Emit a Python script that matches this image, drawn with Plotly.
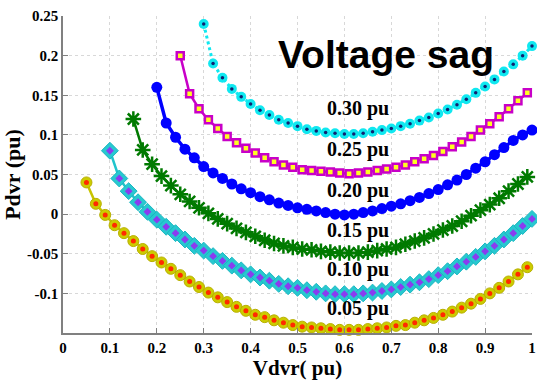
import plotly.graph_objects as go

# DVR active power versus injected DVR voltage for several sag depths
v_05 = [0.05, 0.07, 0.09, 0.11, 0.13, 0.15, 0.17, 0.19, 0.21, 0.23, 0.25, 0.27, 0.29, 0.31, 0.33, 0.35,
        0.37, 0.39, 0.41, 0.43, 0.45, 0.47, 0.49, 0.51, 0.53, 0.55, 0.57, 0.59, 0.61, 0.63, 0.65, 0.67,
        0.69, 0.71, 0.73, 0.75, 0.77, 0.79, 0.81, 0.83, 0.85, 0.87, 0.89, 0.91, 0.93, 0.95, 0.97, 0.99]
p_05 = [0.040, 0.013, -0.001, -0.014, -0.024, -0.034, -0.044, -0.053, -0.061, -0.069, -0.077, -0.085,
        -0.092, -0.099, -0.105, -0.111, -0.117, -0.122, -0.127, -0.130, -0.134, -0.137, -0.140, -0.142,
        -0.143, -0.144, -0.145, -0.146, -0.146, -0.146, -0.145, -0.144, -0.143, -0.141, -0.140, -0.137,
        -0.134, -0.131, -0.127, -0.123, -0.118, -0.113, -0.107, -0.100, -0.093, -0.085, -0.076, -0.067]

v_10 = [0.10, 0.12, 0.14, 0.16, 0.18, 0.20, 0.22, 0.24, 0.26, 0.28, 0.30, 0.32, 0.34, 0.36, 0.38, 0.40,
        0.42, 0.44, 0.46, 0.48, 0.50, 0.52, 0.54, 0.56, 0.58, 0.60, 0.62, 0.64, 0.66, 0.68, 0.70, 0.72,
        0.74, 0.76, 0.78, 0.80, 0.82, 0.84, 0.86, 0.88, 0.90, 0.92, 0.94, 0.96, 0.98, 1.00]
p_10 = [0.080, 0.045, 0.029, 0.015, 0.003, -0.007, -0.016, -0.024, -0.032, -0.040, -0.046, -0.053,
        -0.059, -0.065, -0.071, -0.076, -0.080, -0.084, -0.088, -0.091, -0.093, -0.096, -0.098, -0.100,
        -0.101, -0.101, -0.101, -0.100, -0.099, -0.097, -0.095, -0.092, -0.089, -0.086, -0.082, -0.077,
        -0.072, -0.066, -0.060, -0.054, -0.047, -0.040, -0.032, -0.024, -0.015, -0.006]

v_15 = [0.15, 0.17, 0.19, 0.21, 0.23, 0.25, 0.27, 0.29, 0.31, 0.33, 0.35, 0.37, 0.39, 0.41, 0.43, 0.45,
        0.47, 0.49, 0.51, 0.53, 0.55, 0.57, 0.59, 0.61, 0.63, 0.65, 0.67, 0.69, 0.71, 0.73, 0.75, 0.77,
        0.79, 0.81, 0.83, 0.85, 0.87, 0.89, 0.91, 0.93, 0.95, 0.97, 0.99]
p_15 = [0.120, 0.081, 0.063, 0.048, 0.036, 0.025, 0.016, 0.008, 0.001, -0.006, -0.012, -0.018, -0.023,
        -0.028, -0.033, -0.037, -0.040, -0.042, -0.044, -0.045, -0.047, -0.048, -0.049, -0.049, -0.049,
        -0.048, -0.046, -0.044, -0.042, -0.038, -0.034, -0.030, -0.025, -0.020, -0.015, -0.009, -0.002,
        0.005, 0.012, 0.020, 0.029, 0.038, 0.047]

v_20 = [0.20, 0.22, 0.24, 0.26, 0.28, 0.30, 0.32, 0.34, 0.36, 0.38, 0.40, 0.42, 0.44, 0.46, 0.48, 0.50,
        0.52, 0.54, 0.56, 0.58, 0.60, 0.62, 0.64, 0.66, 0.68, 0.70, 0.72, 0.74, 0.76, 0.78, 0.80, 0.82,
        0.84, 0.86, 0.88, 0.90, 0.92, 0.94, 0.96, 0.98, 1.00]
p_20 = [0.160, 0.115, 0.097, 0.082, 0.071, 0.060, 0.052, 0.045, 0.038, 0.032, 0.027, 0.022, 0.018,
        0.014, 0.011, 0.008, 0.006, 0.004, 0.002, 0.000, -0.001, 0.000, 0.002, 0.004, 0.007, 0.010,
        0.013, 0.017, 0.021, 0.026, 0.031, 0.037, 0.043, 0.050, 0.058, 0.066, 0.075, 0.084, 0.093,
        0.100, 0.106]

v_25 = [0.25, 0.27, 0.29, 0.31, 0.33, 0.35, 0.37, 0.39, 0.41, 0.43, 0.45, 0.47, 0.49, 0.51, 0.53, 0.55,
        0.57, 0.59, 0.61, 0.63, 0.65, 0.67, 0.69, 0.71, 0.73, 0.75, 0.77, 0.79, 0.81, 0.83, 0.85, 0.87,
        0.89, 0.91, 0.93, 0.95, 0.97, 0.99]
p_25 = [0.200, 0.152, 0.133, 0.119, 0.108, 0.098, 0.090, 0.083, 0.077, 0.071, 0.066, 0.062, 0.059,
        0.056, 0.055, 0.054, 0.053, 0.052, 0.051, 0.052, 0.053, 0.055, 0.057, 0.059, 0.062, 0.066,
        0.070, 0.074, 0.079, 0.085, 0.091, 0.098, 0.106, 0.114, 0.123, 0.133, 0.143, 0.153]

v_30 = [0.30, 0.32, 0.34, 0.36, 0.38, 0.40, 0.42, 0.44, 0.46, 0.48, 0.50, 0.52, 0.54, 0.56, 0.58, 0.60,
        0.62, 0.64, 0.66, 0.68, 0.70, 0.72, 0.74, 0.76, 0.78, 0.80, 0.82, 0.84, 0.86, 0.88, 0.90, 0.92,
        0.94, 0.96, 0.98, 1.00]
p_30 = [0.240, 0.190, 0.172, 0.158, 0.148, 0.139, 0.131, 0.125, 0.119, 0.115, 0.111, 0.107, 0.105,
        0.103, 0.102, 0.101, 0.101, 0.102, 0.104, 0.106, 0.108, 0.111, 0.114, 0.118, 0.122, 0.127,
        0.132, 0.138, 0.145, 0.153, 0.161, 0.170, 0.180, 0.189, 0.200, 0.212]

sag_labels = ["0.30 pu", "0.25 pu", "0.20 pu", "0.15 pu", "0.10 pu", "0.05 pu"]
label_x = [0.63, 0.63, 0.63, 0.63, 0.63, 0.63]
label_y = [0.133, 0.082, 0.030, -0.021, -0.070, -0.119]

x_ticks = [0, 0.1, 0.2, 0.3, 0.4, 0.5, 0.6, 0.7, 0.8, 0.9, 1]
x_ticktext = ["0", "0.1", "0.2", "0.3", "0.4", "0.5", "0.6", "0.7", "0.8", "0.9", "1"]
y_ticks = [-0.1, -0.05, 0, 0.05, 0.1, 0.15, 0.2, 0.25]
y_ticktext = ["-0.1", "-0.05", "0", "0.05", "0.1", "0.15", "0.2", "0.25"]

SERIF = "Liberation Serif, Times New Roman, serif"

fig = go.Figure()


def add_curve(x, y, line, marker, inner=None):
    fig.add_trace(go.Scatter(x=x, y=y, mode="lines+markers", line=line, marker=marker,
                             cliponaxis=False, showlegend=False))
    if inner is not None:
        fig.add_trace(go.Scatter(x=x, y=y, mode="markers", marker=inner,
                                 cliponaxis=False, showlegend=False))


# 0.05 pu: olive circles with red centres
add_curve(v_05, p_05, dict(color="#c8c400", width=2.5),
          dict(symbol="circle", size=11, color="#cccc00", line=dict(color="#b8b000", width=1)),
          dict(symbol="circle", size=5, color="#ff2a00"))
# 0.10 pu: teal diamonds with purple centres
add_curve(v_10, p_10, dict(color="#20c4cc", width=2.5),
          dict(symbol="diamond", size=13, color="#28c8d0", line=dict(color="#18b8c0", width=1)),
          dict(symbol="diamond", size=6, color="#8a3cf0"))
# 0.15 pu: green asterisks
add_curve(v_15, p_15, dict(color="#007a00", width=2.5),
          dict(symbol="asterisk-open", size=13, color="#007a00", line=dict(color="#007a00", width=2.5)))
# 0.20 pu: blue filled circles
add_curve(v_20, p_20, dict(color="#0000ff", width=3.5),
          dict(symbol="circle", size=11, color="#0000ff"))
# 0.25 pu: magenta squares with yellow fill
add_curve(v_25, p_25, dict(color="#c800c8", width=2.5),
          dict(symbol="square", size=7, color="#ffff20", line=dict(color="#c800c8", width=2.5)))
# 0.30 pu: cyan circles with navy centres on a dotted line
add_curve(v_30, p_30, dict(color="#10e8f0", width=3, dash="dot"),
          dict(symbol="circle", size=10, color="#10e8f0"),
          dict(symbol="circle", size=3.5, color="#102070"))

for txt, lx, ly in zip(sag_labels, label_x, label_y):
    fig.add_annotation(x=lx, y=ly, text=txt, showarrow=False,
                       font=dict(family=SERIF, size=20, color="black", weight="bold"))

fig.add_annotation(xref="paper", yref="paper", x=0.688, y=0.877, text="Voltage sag",
                   xanchor="center", yanchor="middle", showarrow=False,
                   font=dict(family="Liberation Sans, Arial, sans-serif",
                             size=39, color="black", weight="bold"))

axis_common = dict(
    showline=True, linecolor="#808080", linewidth=1.5, mirror=False,
    ticks="inside", ticklen=5, tickcolor="#808080", tickwidth=1,
    showgrid=True, gridcolor="#d8d8d8", griddash="dot", gridwidth=1,
    zeroline=False, ticklabeloverflow="allow",
    tickfont=dict(family=SERIF, size=15, color="black", weight="bold"),
)

fig.update_xaxes(range=[0, 1], tickvals=x_ticks, ticktext=x_ticktext,
                 title=dict(text="Vdvr( pu)", standoff=6,
                            font=dict(family=SERIF, size=21, color="black", weight="bold")),
                 **axis_common)
fig.update_yaxes(range=[-0.15, 0.25], tickvals=y_ticks, ticktext=y_ticktext,
                 title=dict(text="Pdvr (pu)", standoff=4,
                            font=dict(family=SERIF, size=22, color="black", weight="bold")),
                 **axis_common)

fig.update_layout(
    width=537, height=384,
    margin=dict(l=63, r=5, t=16, b=51, autoexpand=False),
    paper_bgcolor="white", plot_bgcolor="white",
    showlegend=False,
)

fig.write_html("out.html")
